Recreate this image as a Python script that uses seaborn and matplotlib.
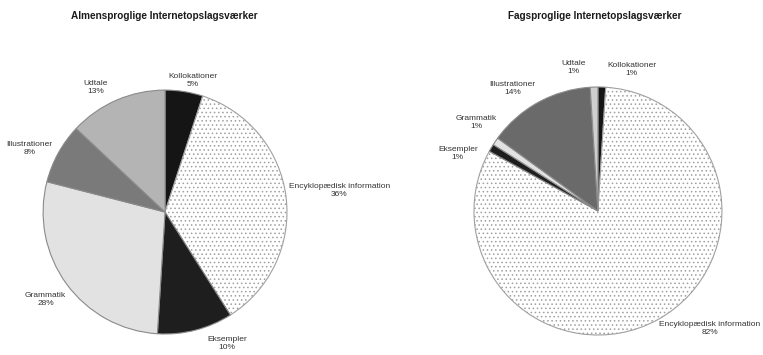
import numpy as np
import matplotlib
matplotlib.use("Agg")
import matplotlib.pyplot as plt
import seaborn as sns

sns.set_style("white")
plt.rcParams['font.family'] = ['Liberation Sans', 'DejaVu Sans']
plt.rcParams['hatch.linewidth'] = 0.6

# data
categories = ["Kollokationer", "Encyklopædisk information", "Eksempler",
              "Grammatik", "Illustrationer", "Udtale"]
almen = [5, 36, 10, 28, 8, 13]
fag = [1, 82, 1, 1, 14, 1]
titles = ["Almensproglige Internetopslagsværker", "Fagsproglige Internetopslagsværker"]

# styling
face_left = ["#151515", "#ffffff", "#1e1e1e", "#e2e2e2", "#7a7a7a", "#b4b4b4"]
face_right = ["#151515", "#ffffff", "#1e1e1e", "#e2e2e2", "#6a6a6a", "#cfcfcf"]
hatches = [None, "....", None, None, None, None]

# label positions in units of pie radius
pos_left = [(0.23, 1.08), (1.43, 0.18), (0.51, -1.08),
            (-0.98, -0.72), (-1.11, 0.52), (-0.57, 1.02)]
pos_right = [(0.27, 1.14), (0.90, -0.95), (-1.13, 0.46),
             (-0.98, 0.71), (-0.69, 0.99), (-0.20, 1.16)]

fig = plt.figure(figsize=(7.63, 3.55), dpi=100)

def draw_pie(rect, values, faces, positions, title, title_x):
    ax = fig.add_axes(rect)
    wedges, _ = ax.pie(values, startangle=90, counterclock=False, colors=faces,
                       radius=1.0,
                       wedgeprops=dict(edgecolor="#8a8a8a", linewidth=0.8))
    for w, h in zip(wedges, hatches):
        if h:
            w.set_hatch(h)
            w.set_edgecolor("#a0a0a0")
    for name, v, (x, y) in zip(categories, values, positions):
        ax.text(x, y, f"{name}\n{v}%", ha="center", va="center",
                fontsize=6.0, color="#333333", linespacing=1.2)
    ax.set_xlim(-1, 1)
    ax.set_ylim(-1, 1)
    ax.set_aspect("equal")
    ax.axis("off")
    fig.text(title_x, 0.955, title, ha="center", va="center",
             fontsize=7.2, fontweight="bold", color="#1a1a1a")

draw_pie([0.0564, 0.0592, 0.3198, 0.687], almen, face_left, pos_left,
         titles[0], 0.216)
draw_pie([0.6212, 0.0563, 0.325, 0.6986], fag, face_right, pos_right,
         titles[1], 0.780)

fig.savefig("out.png", dpi=100)
